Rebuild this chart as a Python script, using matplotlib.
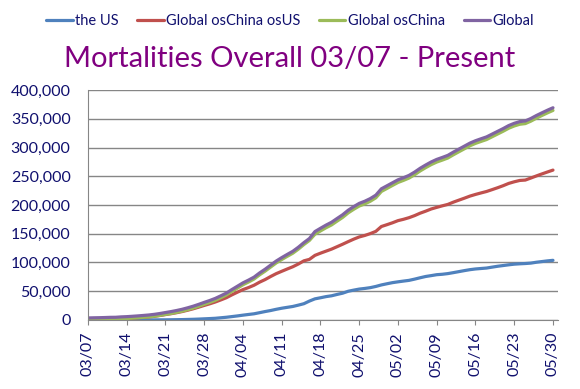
import matplotlib
matplotlib.use("Agg")
import matplotlib.pyplot as plt
from matplotlib.ticker import FuncFormatter
import datetime as dt

# daily dates 03/07 .. 05/30
start = dt.date(2020, 3, 7)
dates = [(start + dt.timedelta(days=i)).strftime("%m/%d") for i in range(85)]

us = [19, 22, 26, 30, 38, 41, 48, 57, 69, 86, 109, 150, 206, 255, 301, 417,
      557, 706, 942, 1209, 1581, 2026, 2467, 2978, 3873, 4757, 5926, 7087, 8407,
      9619, 10783, 12722, 14695, 16478, 18586, 20463, 22020, 23529, 25832, 28325,
      32916, 36773, 38664, 40661, 42094, 44444, 46622, 49954, 51949, 53755, 54881,
      56259, 58355, 60967, 62996, 64943, 66369, 67682, 68922, 71064, 73455, 75662,
      77180, 78795, 79526, 80682, 82356, 84119, 85898, 87530, 88754, 89562, 90347,
      91921, 93439, 94702, 95979, 97087, 97720, 98220, 98916, 100442, 101617,
      102809, 103776]

global_os_china_os_us = [467, 680, 839, 1093, 1416, 1507, 2176, 2569, 3168, 3823,
      4566, 5342, 6412, 7791, 9413, 10932, 12666, 14628, 16954, 19470, 22321,
      25327, 28154, 31296, 34925, 38736, 43735, 48374, 52869, 56422, 60447, 65808,
      70306, 75638, 80599, 84697, 88728, 92608, 97380, 102868, 105450, 112413,
      116210, 119747, 123256, 127503, 131769, 136268, 140574, 144454, 147026,
      150271, 154161, 162590, 165755, 169048, 172802, 175151, 177978, 181538,
      185763, 189268, 193081, 195879, 198546, 201011, 204949, 208441, 211883,
      215499, 218390, 220986, 223497, 226727, 230039, 233585, 237544, 240373,
      242702, 243375, 246900, 250550, 254054, 257421, 260713]

global_os_china = [486, 702, 865, 1123, 1454, 1548, 2224, 2626, 3237, 3909, 4675,
      5492, 6618, 8046, 9714, 11349, 13223, 15334, 17896, 20679, 23902, 27353,
      30621, 34274, 38798, 43493, 49661, 55461, 61276, 66041, 71230, 78530, 85001,
      92116, 99185, 105160, 110748, 116137, 123212, 131193, 138366, 149186, 154874,
      160408, 165350, 171947, 178391, 186222, 192523, 198209, 201907, 206530,
      212516, 223557, 228751, 233991, 239171, 242833, 246900, 252602, 259218,
      264930, 270261, 274674, 278072, 281693, 287305, 292560, 297781, 303029,
      307144, 310548, 313844, 318648, 323478, 328287, 333523, 337460, 340422,
      341595, 345816, 350992, 355671, 360230, 364489]

global_all = [3558, 3802, 3988, 4262, 4615, 4720, 5404, 5819, 6440, 7126, 7905,
      8733, 9867, 11299, 12973, 14623, 16497, 18615, 21181, 23970, 27198, 30652,
      33925, 37582, 42107, 46809, 52983, 58787, 64606, 69374, 74565, 81865, 88338,
      95455, 102525, 108503, 114091, 119482, 126557, 134539, 141712, 153822,
      159510, 165044, 169986, 176583, 183027, 190858, 197159, 202846, 206544,
      211167, 217153, 228194, 233388, 238628, 243808, 247470, 251537, 257239,
      263855, 269567, 274898, 279311, 282709, 286330, 291942, 297197, 302418,
      307666, 311781, 315185, 318481, 323285, 328115, 332924, 338160, 342097,
      345059, 346232, 350453, 355629, 360308, 364867, 369126]

series = [
    ("the US", us, "#4F81BD"),
    ("Global osChina osUS", global_os_china_os_us, "#C0504D"),
    ("Global osChina", global_os_china, "#9BBB59"),
    ("Global", global_all, "#8064A2"),
]

plt.rcParams["font.family"] = ["Lato", "DejaVu Sans"]
navy = "#10106E"

fig = plt.figure(figsize=(5.8, 3.89), dpi=100)
ax = fig.add_axes([0.1517, 0.1774, 0.8103, 0.5912])

x = list(range(len(dates)))
for name, vals, col in series:
    ax.plot(x, vals, color=col, lw=2.3, label=name, solid_capstyle="round")

ax.set_xlim(0, 84.9)
ax.set_ylim(0, 400000)
ax.set_yticks(range(0, 400001, 50000))
ax.yaxis.set_major_formatter(FuncFormatter(lambda v, p: f"{int(v):,}"))
ax.set_xticks(x[::7])
ax.set_xticklabels(dates[::7], rotation=90)
ax.grid(axis="y", color="#868686", lw=1)
ax.set_axisbelow(True)
for s in ["top", "right"]:
    ax.spines[s].set_visible(False)
for s in ["left", "bottom"]:
    ax.spines[s].set_color("#868686")
ax.tick_params(axis="x", colors="#868686", labelcolor=navy, labelsize=11.5,
               length=3.6, direction="out", pad=5)
ax.tick_params(axis="y", labelcolor=navy, labelsize=11.5, length=0, pad=12.5)

fig.legend(loc="center", bbox_to_anchor=(0.5, 1 - 21 / 389), ncol=4, frameon=False,
           fontsize=10.5, handlelength=1.8, handletextpad=0.15, columnspacing=1.3,
           labelcolor=navy)
fig.text(0.5, 1 - 59 / 389, "Mortalities Overall 03/07 - Present", ha="center",
         va="center", fontsize=21, color="#800080")

fig.savefig("out.png", dpi=100)
